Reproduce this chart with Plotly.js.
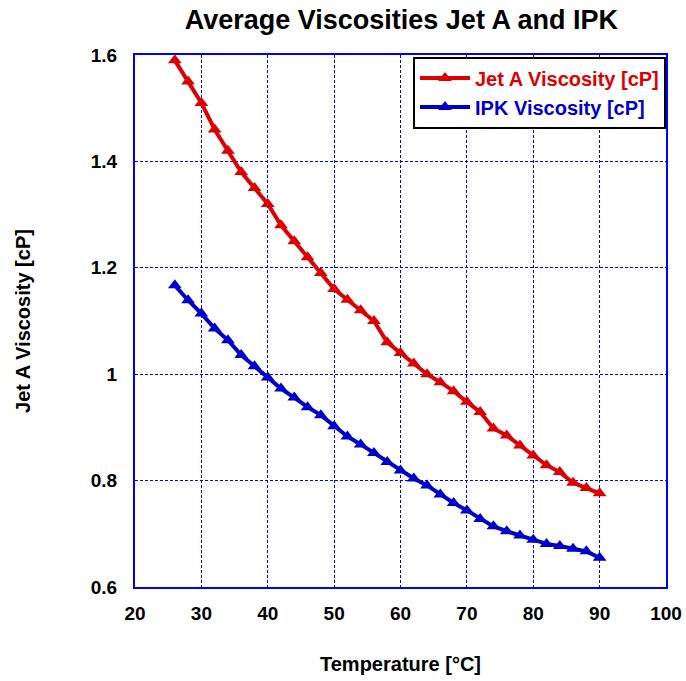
<!DOCTYPE html>
<html>
<head>
<meta charset="utf-8">
<script src="https://cdn.plot.ly/plotly-3.0.1.min.js"></script>
<style>html,body{margin:0;padding:0;background:#fff;}#chart{width:686px;height:681px;}</style>
</head>
<body>
<div id="chart"></div>
<script>
const temperature = [26,28,30,32,34,36,38,40,42,44,46,48,50,52,54,56,58,60,62,64,66,68,70,72,74,76,78,80,82,84,86,88,90];
const jetA = [1.59,1.55,1.51,1.46,1.42,1.38,1.35,1.32,1.28,1.25,1.22,1.19,1.16,1.14,1.12,1.10,1.06,1.04,1.02,1.00,0.985,0.968,0.948,0.929,0.898,0.885,0.866,0.847,0.829,0.816,0.796,0.786,0.776];
const ipk = [1.167,1.139,1.114,1.086,1.064,1.036,1.015,0.994,0.973,0.956,0.938,0.923,0.902,0.883,0.868,0.852,0.835,0.819,0.804,0.791,0.774,0.758,0.744,0.728,0.714,0.705,0.697,0.689,0.681,0.677,0.672,0.667,0.655];
const xTicks = [20,30,40,50,60,70,80,90,100];
const yTicks = [0.6,0.8,1,1.2,1.4,1.6];
const yTickText = ['0.6','0.8','1','1.2','1.4','1.6'];

const RED = '#dd0000', BLUE = '#0000cc';
const FONT = 'Arial, "Liberation Sans", sans-serif';

const traces = [
  {x: temperature, y: jetA, type: 'scatter', mode: 'lines+markers',
   name: '<span style="color:' + RED + '">Jet A Viscosity [cP]</span>',
   line: {color: RED, width: 4}, marker: {symbol: 'triangle-up', size: 12, color: RED}},
  {x: temperature, y: ipk, type: 'scatter', mode: 'lines+markers',
   name: '<span style="color:' + BLUE + '">IPK Viscosity [cP]</span>',
   line: {color: BLUE, width: 4}, marker: {symbol: 'triangle-up', size: 12, color: BLUE}}
];

const axisCommon = {
  showgrid: true, gridcolor: '#0000ff', griddash: '3px,2px', gridwidth: 1,
  showline: true, linecolor: '#0000ff', linewidth: 2, mirror: true,
  zeroline: false, ticks: '',
  tickfont: {family: FONT, size: 19, color: '#000', weight: 'bold'}
};

const layout = {
  width: 686, height: 681,
  margin: {l: 135, r: 20, t: 55, b: 94},
  paper_bgcolor: '#fff', plot_bgcolor: '#fff',
  title: {text: '<b>Average Viscosities Jet A and IPK</b>', x: 0.585, xanchor: 'center', y: 0.971, yanchor: 'middle',
          font: {family: FONT, size: 27, color: '#000'}},
  xaxis: Object.assign({}, axisCommon, {
    range: [20, 100], tickvals: xTicks, ticktext: xTicks.map(String), ticklabelstandoff: 8,
    title: {text: '<b>Temperature [°C]</b>', font: {family: FONT, size: 20, color: '#000'}, standoff: 34}
  }),
  yaxis: Object.assign({}, axisCommon, {
    range: [0.6, 1.6], tickvals: yTicks, ticktext: yTickText, ticklabelstandoff: 12,
    title: {text: '<b>Jet A Viscosity [cP]</b>', font: {family: FONT, size: 20, color: '#000'}, standoff: 55}
  }),
  legend: {x: 1, xanchor: 'right', y: 0.997, yanchor: 'top',
           bgcolor: '#fff', bordercolor: '#000', borderwidth: 2, itemwidth: 50,
           font: {family: FONT, size: 20, weight: 'bold'}, tracegroupgap: 0},
  showlegend: true
};

Plotly.newPlot('chart', traces, layout, {displayModeBar: false, staticPlot: true});
</script>
</body>
</html>
